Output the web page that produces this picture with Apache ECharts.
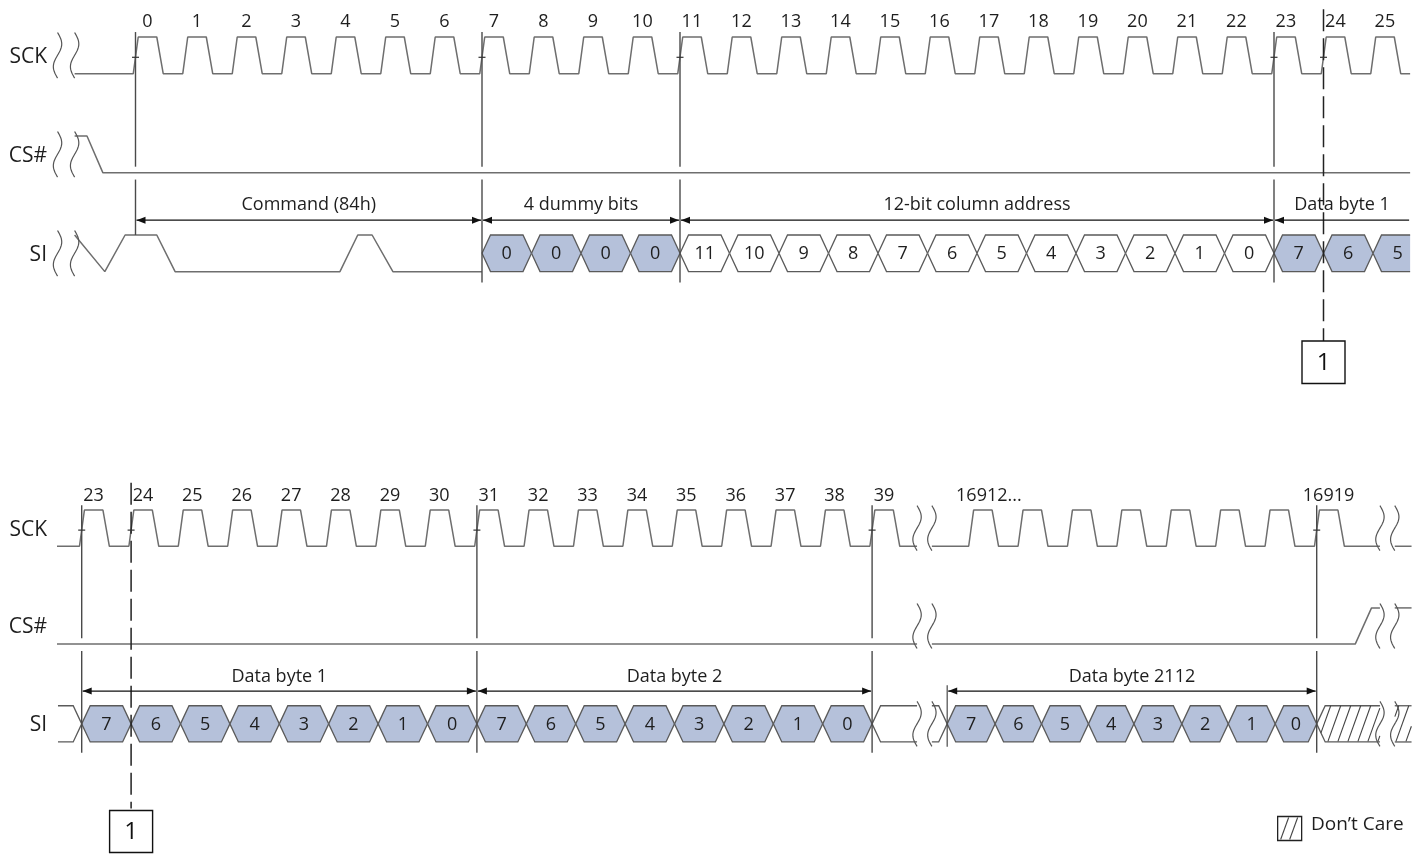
<!DOCTYPE html>
<html>
<head>
<meta charset="utf-8">
<title>Program load timing</title>
<script src="https://cdn.jsdelivr.net/npm/echarts@6/dist/echarts.min.js"></script>
<style>
html,body{margin:0;padding:0;background:#ffffff;}
#chart{width:1421px;height:855px;}
</style>
</head>
<body>
<div id="chart"></div>
<script>
// ---------------- data ----------------
const topClocks = [0,1,2,3,4,5,6,7,8,9,10,11,12,13,14,15,16,17,18,19,20,21,22,23,24,25];
const bottomClocks = [23,24,25,26,27,28,29,30,31,32,33,34,35,36,37,38,39];
const tailClocks = [16912,16913,16914,16915,16916,16917,16918,16919];
const tailLabels = ['16912...','','','','','','','16919'];
const laneNames = ['SCK','CS#','SI'];

// levels: 1 = high, 0 = low ; time in clock periods
const siCommand = [[-1.23,1],[-0.62,0],[-0.58,0],[-0.21,1],[0.43,1],[0.80,0],[4.13,0],[4.49,1],[4.78,1],[5.20,0],[7.0,0]];
const csTop = [[-1.23,1],[-0.98,1],[-0.66,0],[25.75,0]];
const csBottomA = [[22.5,0],[39.91,0]];
const csBottomB = [[40.21,0],[48.78,0],[49.11,1],[49.28,1]];
const csBottomC = [[49.58,1],[49.92,1]];

const dummyBits = ['0','0','0','0'];
const addressBits = ['11','10','9','8','7','6','5','4','3','2','1','0'];
const dataBits = ['7','6','5','4','3','2','1','0'];
const byte2112Edges = [40.52,41.49,42.43,43.38,44.30,45.27,46.21,47.16,48.0];

const topSections = [
  {from:0, to:7, text:'Command (84h)'},
  {from:7, to:11, text:'4 dummy bits'},
  {from:11, to:23, text:'12-bit column address'},
  {from:23, to:25.75, text:'Data byte 1', open:true}
];
const bottomSections = [
  {from:23, to:31, text:'Data byte 1'},
  {from:31, to:39, text:'Data byte 2'},
  {from:40.52, to:48, text:'Data byte 2112', tick:true}
];

const topSync = [0,7,11,23];
const bottomSync = [23,31,39,48];
const topEdgeTicks = [0,7,11,23,24];
const bottomEdgeTicks = [23,24,31,39,48];
const topBreaks = [-1.575,-1.23];
const bottomBreaks = [39.91,40.21,49.28,49.58];
const topMarker = 24, bottomMarker = 24;
const markerText = '1';

// ---------------- layout & style ----------------
const TAIL_POS = 41;            // axis slot of 16912 (one slot lost in the break)
const T_TOP = 49.5, X0_TOP = 135.5;
const T_BOT = 49.4, X0_BOT = 81.7, C0_BOT = 23;
const PITCH = 99, Y0_TOP = 37, Y0_BOT = 511;
const SW = 0.37, SLANT = 8.5;
const SCK = 0, CS = 1, SI = 2;
const FONT = '"Open Sans", "Noto Sans", sans-serif';
const BLUE = '#b5c1da', WHITE = '#ffffff';
const WAVE = '#6e6e6e', HEXSTROKE = '#5a5a5a', VLINE = '#4a4a4a', INK = '#1e1e1e';

const lv = (lane, level) => lane + (1 - level) * SW;
function pulses(positions){
  const out = [];
  positions.forEach(p => {
    out.push([p-0.045, lv(SCK,0)], [p+0.055, lv(SCK,1)], [p+0.43, lv(SCK,1)], [p+0.56, lv(SCK,0)]);
  });
  return out;
}
const toLane = (arr, lane) => arr.map(d => [d[0], lv(lane, d[1])]);
const tailPos = tailClocks.map((c,i) => TAIL_POS + i);

function cellsFrom(labels, start, fill){
  return labels.map((lab,i) => ({t0:start+i, t1:start+i+1, label:lab, at:start+i+0.5, fill:fill, l:'pt', r:'pt'}));
}
const topCells = [].concat(
  cellsFrom(dummyBits, 7, BLUE),
  cellsFrom(addressBits, 11, WHITE),
  cellsFrom(dataBits.slice(0,3), 23, BLUE)
);
topCells[topCells.length-1].t1 = 25.75;
topCells[topCells.length-1].r = 'open';

const byte2112Cells = dataBits.map((lab,i) => ({t0:byte2112Edges[i], t1:byte2112Edges[i+1], label:lab,
  at:(byte2112Edges[i]+byte2112Edges[i+1])/2, fill:BLUE, l:'pt', r:'pt'}));
const bottomCells = [].concat(
  [{t0:22.52, t1:23, label:'', fill:WHITE, l:'open', r:'pt'}],
  cellsFrom(dataBits, 23, BLUE),
  cellsFrom(dataBits, 31, BLUE),
  [{t0:39, t1:39.91, label:'', fill:WHITE, l:'pt', r:'open'},
   {t0:40.21, t1:40.52, label:'', fill:WHITE, l:'open', r:'pt'}],
  byte2112Cells,
  [{t0:48, t1:49.28, label:'', fill:WHITE, hatch:true, l:'pt', r:'open'},
   {t0:49.58, t1:49.92, label:'', fill:WHITE, hatch:true, l:'open', r:'open'}]
);

// ---------------- renderers ----------------
function insidePoly(poly, x, y){
  let ins = false;
  for (let i=0, j=poly.length-1; i<poly.length; j=i++){
    const xi=poly[i][0], yi=poly[i][1], xj=poly[j][0], yj=poly[j][1];
    if (((yi>y)!==(yj>y)) && (x < (xj-xi)*(y-yi)/(yj-yi)+xi)) ins = !ins;
  }
  return ins;
}
function hatchLines(poly, x0, x1, yH, yL){
  const out = [], dx = 13, step = 10;
  for (let xb = x0 - dx + 4; xb <= x1 + 2; xb += step){
    let uMin = null, uMax = null;
    for (let k=0; k<=60; k++){
      const u = k/60, px = xb + dx*u, py = yL + (yH-yL)*u;
      if (insidePoly(poly, px, py)) { if (uMin===null) uMin = u; uMax = u; }
    }
    if (uMin !== null && uMax - uMin > 0.08){
      out.push({type:'line', shape:{x1:xb+dx*uMin, y1:yL+(yH-yL)*uMin, x2:xb+dx*uMax, y2:yL+(yH-yL)*uMax},
        style:{stroke:'#444', lineWidth:1.1}});
    }
  }
  return out;
}
function txt(text, x, y, size, align, color){
  return {type:'text', style:{text:text, x:x, y:y, font:size+'px '+FONT, fill:color||INK,
    align:align||'center', verticalAlign:'middle', textAlign:align||'center', textVerticalAlign:'middle'}};
}
function cellRenderer(cells, lane){
  return function(params, api){
    const c = cells[params.dataIndex];
    const a = api.coord([c.t0, lane]), b = api.coord([c.t1, lane+SW]);
    const x0=a[0], x1=b[0], yH=a[1], yL=b[1], yM=(yH+yL)/2, s=SLANT;
    const top=[], bot=[];
    if (c.l==='pt'){ top.push([x0,yM],[x0+s,yH]); bot.push([x0,yM],[x0+s,yL]); }
    else { top.push([x0,yH]); bot.push([x0,yL]); }
    if (c.r==='pt'){ top.push([x1-s,yH],[x1,yM]); bot.push([x1-s,yL],[x1,yM]); }
    else { top.push([x1,yH]); bot.push([x1,yL]); }
    const poly = top.concat(bot.slice().reverse());
    const ch = [
      {type:'polygon', shape:{points:poly}, style:{fill:c.fill, stroke:null}},
      {type:'polyline', shape:{points:top}, style:{stroke:HEXSTROKE, lineWidth:1.3, fill:null}},
      {type:'polyline', shape:{points:bot}, style:{stroke:HEXSTROKE, lineWidth:1.3, fill:null}}
    ];
    if (c.hatch) hatchLines(poly, x0, x1, yH, yL).forEach(h => ch.push(h));
    if (c.label) ch.push(txt(c.label, api.coord([c.at, lane])[0], yM+1, 18));
    return {type:'group', children:ch};
  };
}
function breakRenderer(params, api){
  const t = api.value(0), lane = api.value(1);
  const p0 = api.coord([t, lane-0.045]), p1 = api.coord([t, lane+SW+0.045]);
  const pts = [], N = 28, amp = 4.2;
  for (let i=0;i<=N;i++){ const s=i/N; pts.push([p0[0]+amp*Math.sin(2*Math.PI*s), p0[1]+(p1[1]-p0[1])*s]); }
  return {type:'polyline', shape:{points:pts}, style:{stroke:'#555', lineWidth:1.2, fill:null}};
}
function vlineRenderer(dash, color, width){
  return function(params, api){
    const a = api.coord([api.value(0), api.value(1)]), b = api.coord([api.value(0), api.value(2)]);
    return {type:'line', shape:{x1:a[0], y1:a[1], x2:b[0], y2:b[1]},
      style:{stroke:color, lineWidth:width, lineDash:dash||null}};
  };
}
function tickRenderer(params, api){
  const a = api.coord([api.value(0), SCK + SW/2 + 0.02]);
  return {type:'line', shape:{x1:a[0]-3.5, y1:a[1], x2:a[0]+3.5, y2:a[1]}, style:{stroke:'#333', lineWidth:1.2}};
}
function arrowRenderer(sections){
  return function(params, api){
    const s = sections[params.dataIndex];
    const a = api.coord([s.from, 1.85]), b = api.coord([s.to, 1.85]);
    const y = a[1], xa = a[0]+1, xb = b[0]-1, L = 9, W = 3.5;
    const ch = [{type:'line', shape:{x1:xa, y1:y, x2:xb, y2:y}, style:{stroke:'#111', lineWidth:1.3}},
      {type:'polygon', shape:{points:[[xa,y],[xa+L,y-W],[xa+L,y+W]]}, style:{fill:'#111'}}];
    if (!s.open) ch.push({type:'polygon', shape:{points:[[xb,y],[xb-L,y-W],[xb-L,y+W]]}, style:{fill:'#111'}});
    if (s.tick){
      const t0 = api.coord([s.from, 1.79]), t1 = api.coord([s.from, 2.42]);
      ch.push({type:'line', shape:{x1:t0[0], y1:t0[1], x2:t1[0], y2:t1[1]}, style:{stroke:VLINE, lineWidth:1.2}});
    }
    const ty = api.coord([s.from, 1.70])[1];
    ch.push(txt(s.text, (a[0]+b[0])/2, ty, 18));
    return {type:'group', children:ch};
  };
}
function boxRenderer(params, api){
  const a = api.coord([api.value(0), 3.07]), b = api.coord([api.value(0), 3.5]);
  const w = 43;
  return {type:'group', children:[
    {type:'rect', shape:{x:a[0]-w/2, y:a[1], width:w, height:b[1]-a[1]}, style:{fill:'#fff', stroke:'#111', lineWidth:1.4}},
    txt(markerText, a[0], (a[1]+b[1])/2+1, 24, 'center', '#111')
  ]};
}
function labelRenderer(texts, align){
  return function(params, api){
    const p = api.coord([api.value(0), api.value(1)]);
    return txt(texts[params.dataIndex], p[0], p[1], params.seriesName==='lanes' ? 21 : 18, align);
  };
}

// ---------------- series ----------------
function line(panel, data, color){
  return {type:'line', xAxisIndex:panel, yAxisIndex:panel, data:data, symbol:'none', showSymbol:false,
    lineStyle:{color:color||WAVE, width:1.5}, clip:false, silent:true, animation:false, z:3};
}
function custom(panel, data, renderItem, z, name){
  return {type:'custom', name:name||'', xAxisIndex:panel, yAxisIndex:panel, data:data, renderItem:renderItem,
    clip:false, silent:true, animation:false, z:z||4};
}

const series = [];
// top panel (0)
series.push(line(0, [[-1.23, lv(SCK,0)]].concat(pulses(topClocks), [[25.75, lv(SCK,0)]])));
series.push(line(0, toLane(csTop, CS)));
series.push(line(0, toLane(siCommand, SI)));
series.push(custom(0, topCells.map(c => [c.t0, c.t1]), cellRenderer(topCells, SI), 4));
const topBreakData = [];
topBreaks.forEach(t => [SCK,CS,SI].forEach(l => topBreakData.push([t,l])));
series.push(custom(0, topBreakData, breakRenderer, 5));
const topSyncData = [];
topSync.forEach((t,i) => { topSyncData.push([t,-0.05,1.31]); topSyncData.push([t,1.44, i===0 ? SI : 2.48]); });
series.push(custom(0, topSyncData, vlineRenderer(null, VLINE, 1.4), 6));
series.push(custom(0, [[topMarker,-0.28,3.07]], vlineRenderer([22,7], '#222', 1.5), 6));
series.push(custom(0, topEdgeTicks.map(t => [t]), tickRenderer, 6));
series.push(custom(0, topSections.map(s => [s.from, s.to]), arrowRenderer(topSections), 6));
series.push(custom(0, [[topMarker, 3.07]], boxRenderer, 7));
series.push(custom(0, topClocks.map(c => [c+0.24, -0.15]), labelRenderer(topClocks.map(String), 'center'), 7, 'clocks'));
series.push(custom(0, laneNames.map((n,i) => [-1.788, i+0.2]), labelRenderer(laneNames, 'right'), 7, 'lanes'));

// bottom panel (1)
series.push(line(1, [[22.5, lv(SCK,0)]].concat(pulses(bottomClocks), [[39.91, lv(SCK,0)]])));
series.push(line(1, [[40.21, lv(SCK,0)]].concat(pulses(tailPos), [[49.28, lv(SCK,0)]])));
series.push(line(1, [[49.58, lv(SCK,0)],[49.92, lv(SCK,0)]]));
series.push(line(1, toLane(csBottomA, CS)));
series.push(line(1, toLane(csBottomB, CS)));
series.push(line(1, toLane(csBottomC, CS)));
series.push(custom(1, bottomCells.map(c => [c.t0, c.t1]), cellRenderer(bottomCells, SI), 4));
const botBreakData = [];
bottomBreaks.forEach(t => [SCK,CS,SI].forEach(l => botBreakData.push([t,l])));
series.push(custom(1, botBreakData, breakRenderer, 5));
const botSyncData = [];
bottomSync.forEach(t => { botSyncData.push([t,-0.05,1.31]); botSyncData.push([t,1.44,2.48]); });
series.push(custom(1, botSyncData, vlineRenderer(null, VLINE, 1.4), 6));
series.push(custom(1, [[bottomMarker,-0.28,3.05]], vlineRenderer([22,7], '#222', 1.5), 6));
series.push(custom(1, bottomEdgeTicks.map(t => [t]), tickRenderer, 6));
series.push(custom(1, bottomSections.map(s => [s.from, s.to]), arrowRenderer(bottomSections), 6));
series.push(custom(1, [[bottomMarker, 3.05]], boxRenderer, 7));
series.push(custom(1, bottomClocks.map(c => [c+0.24, -0.15]), labelRenderer(bottomClocks.map(String), 'center'), 7, 'clocks'));
const tailLabelIdx = tailLabels.map((t,i) => i).filter(i => tailLabels[i]);
series.push(custom(1, tailLabelIdx.map(i => [i===0 ? tailPos[i]-0.3 : tailPos[i]+0.24, -0.15]),
  function(params, api){
    const p = api.coord([api.value(0), api.value(1)]);
    const i = tailLabelIdx[params.dataIndex];
    return txt(tailLabels[i], p[0], p[1], 18, i===0 ? 'left' : 'center');
  }, 7, 'clocks'));
series.push(custom(1, laneNames.map((n,i) => [22.30, i+0.2]), labelRenderer(laneNames, 'right'), 7, 'lanes'));

const option = {
  backgroundColor:'#ffffff',
  animation:false,
  grid:[
    {left:0, top:0, width:1421, height:430, show:false},
    {left:0, top:430, width:1421, height:430, show:false}
  ],
  xAxis:[
    {gridIndex:0, type:'value', min:-X0_TOP/T_TOP, max:(1421-X0_TOP)/T_TOP, show:false},
    {gridIndex:1, type:'value', min:C0_BOT - X0_BOT/T_BOT, max:C0_BOT + (1421-X0_BOT)/T_BOT, show:false}
  ],
  yAxis:[
    {gridIndex:0, type:'value', inverse:true, min:-Y0_TOP/PITCH, max:(430-Y0_TOP)/PITCH, show:false},
    {gridIndex:1, type:'value', inverse:true, min:(430-Y0_BOT)/PITCH, max:(860-Y0_BOT)/PITCH, show:false}
  ],
  graphic:[
    {type:'group', left:1277, top:815, children:[
      {type:'rect', shape:{x:0, y:0, width:24, height:24}, style:{fill:'#fff', stroke:'#222', lineWidth:1.3}},
      {type:'line', shape:{x1:3, y1:23, x2:11, y2:1}, style:{stroke:'#444', lineWidth:1.1}},
      {type:'line', shape:{x1:12, y1:23, x2:20, y2:1}, style:{stroke:'#444', lineWidth:1.1}}
    ]},
    {type:'text', left:1311, top:815, style:{text:"Don\u2019t Care", font:'19px '+FONT, fill:INK}}
  ],
  series:series
};
const chart = echarts.init(document.getElementById('chart'));
chart.setOption(option);
</script>
</body>
</html>
